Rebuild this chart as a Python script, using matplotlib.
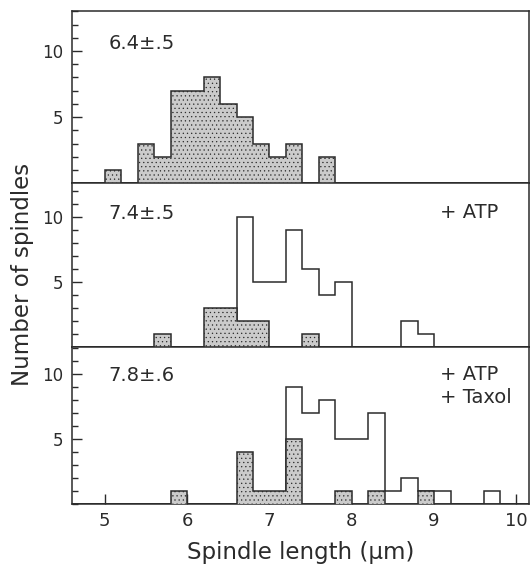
import numpy as np
import matplotlib
matplotlib.use('Agg')
import matplotlib.pyplot as plt
from matplotlib.gridspec import GridSpec
from matplotlib.ticker import MultipleLocator

# bin edges: 0.2 um bins from 4.6 to 10.2
EDGES = np.round(np.arange(4.6, 10.2001, 0.2), 1)

# counts per bin (left edge -> count), shaded = control, open = treated
ctrl_top = {5.0: 1, 5.4: 3, 5.6: 2, 5.8: 7, 6.0: 7, 6.2: 8, 6.4: 6,
            6.6: 5, 6.8: 3, 7.0: 2, 7.2: 3, 7.6: 2}

ctrl_mid = {5.6: 1, 6.2: 3, 6.4: 3, 6.6: 2, 6.8: 2, 7.4: 1}
atp_mid = {6.6: 10, 6.8: 5, 7.0: 5, 7.2: 9, 7.4: 6, 7.6: 4, 7.8: 5,
           8.6: 2, 8.8: 1}

ctrl_bot = {5.8: 1, 6.6: 4, 6.8: 1, 7.0: 1, 7.2: 5, 7.8: 1, 8.2: 1, 8.8: 1}
taxol_bot = {7.2: 9, 7.4: 7, 7.6: 8, 7.8: 5, 8.0: 5, 8.2: 7, 8.4: 1,
             8.6: 2, 8.8: 1, 9.0: 1, 9.6: 1}

means = ['6.4±.5', '7.4±.5', '7.8±.6']
conditions = ['', '+ ATP', '+ ATP\n+ Taxol']
x_ticks = [5, 6, 7, 8, 9, 10]

SHADE = '#cbcbcb'
EDGE = '#2b2b2b'


def to_counts(d):
    vals = np.zeros(len(EDGES) - 1)
    for left, n in d.items():
        i = int(round((left - EDGES[0]) / 0.2))
        vals[i] = n
    return vals


plt.rcParams['font.family'] = 'DejaVu Sans'
plt.rcParams['hatch.color'] = '#bababa'
plt.rcParams['hatch.linewidth'] = 0.4

fig = plt.figure(figsize=(5.32, 5.65), dpi=100)
gs = GridSpec(3, 1, figure=fig, height_ratios=[172, 164, 157], hspace=0,
              left=0.135, right=0.994, top=0.98, bottom=0.108)

panels = [(ctrl_top, None, (0, 13)),
          (ctrl_mid, atp_mid, (0, 12.6)),
          (ctrl_bot, taxol_bot, (0, 12.1))]
mean_y = [0.81, 0.815, 0.82]

for k, (ctrl, treat, ylim) in enumerate(panels):
    ax = fig.add_subplot(gs[k])
    if treat is not None:
        ax.stairs(to_counts(treat), EDGES, fill=True, facecolor='white',
                  edgecolor=EDGE, linewidth=1.1, zorder=2)
    ax.stairs(to_counts(ctrl), EDGES, fill=True, facecolor=SHADE,
              edgecolor=EDGE, linewidth=1.1, hatch='....', zorder=3)
    ax.set_xlim(4.6, 10.15)
    ax.set_ylim(*ylim)
    ax.set_yticks([5, 10])
    ax.yaxis.set_minor_locator(MultipleLocator(1))
    ax.tick_params(axis='y', which='major', direction='in', length=7,
                   width=1, labelsize=12, colors=EDGE, pad=6)
    ax.tick_params(axis='y', which='minor', direction='in', length=4,
                   width=1, colors=EDGE)
    for s in ax.spines.values():
        s.set_color(EDGE)
        s.set_linewidth(1.1)
    ax.text(0.08, mean_y[k], means[k], transform=ax.transAxes,
            fontsize=14, color=EDGE, va='center', ha='left')
    if k == 1:
        ax.text(0.805, 0.82, conditions[k], transform=ax.transAxes,
                fontsize=14, color=EDGE, va='center', ha='left')
    elif k == 2:
        ax.text(0.805, 0.885, conditions[k], transform=ax.transAxes,
                fontsize=14, color=EDGE, va='top', ha='left', linespacing=1.25)
    if k < 2:
        ax.tick_params(axis='x', which='both', bottom=False, labelbottom=False)
    else:
        ax.set_xticks(x_ticks)
        ax.set_xticklabels([str(t) for t in x_ticks])
        ax.tick_params(axis='x', direction='in', length=7, width=1,
                       labelsize=13, colors=EDGE, pad=6)
        ax.set_xlabel('Spindle length (μm)', fontsize=16.5, color=EDGE,
                      labelpad=8)

fig.text(0.043, 0.515, 'Number of spindles', rotation=90, fontsize=16.5,
         color=EDGE, ha='center', va='center')

fig.savefig('out.png', dpi=100)
